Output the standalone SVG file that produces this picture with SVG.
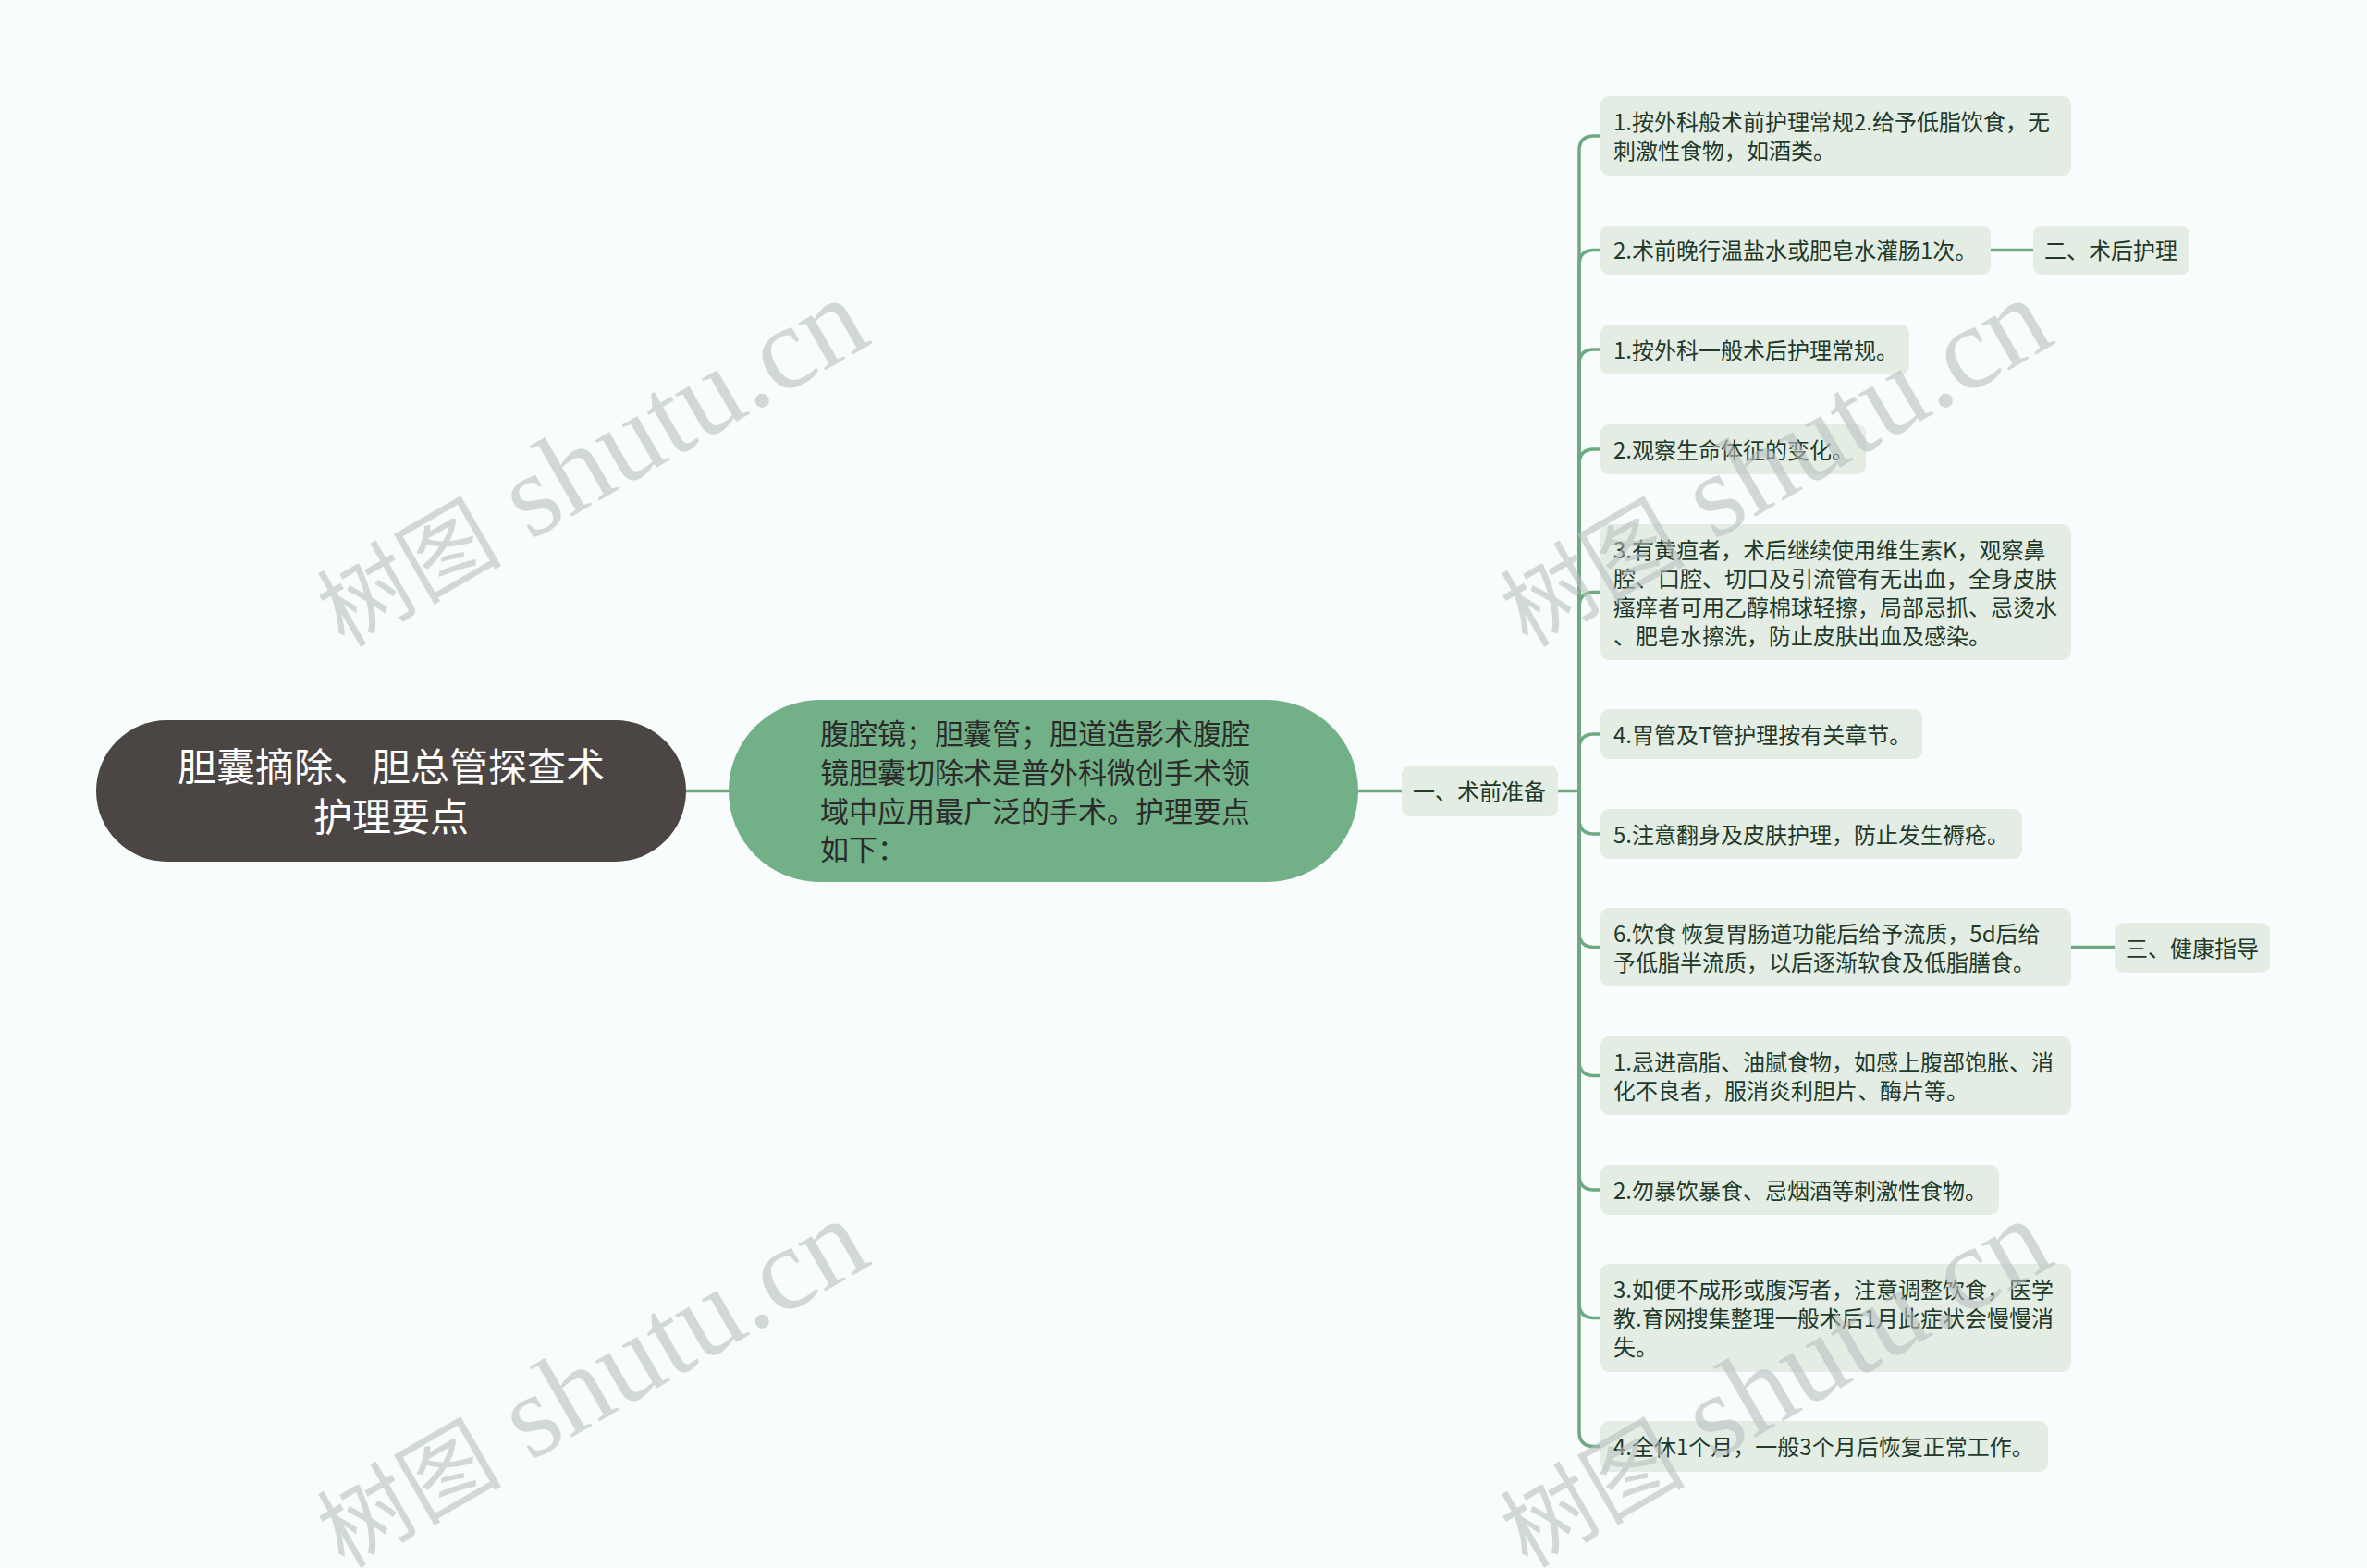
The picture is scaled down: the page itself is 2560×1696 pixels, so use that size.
<svg xmlns="http://www.w3.org/2000/svg" width="2560" height="1696" viewBox="0 0 2560 1696">
<style>
.bg{fill:#f8fcfc}
.wm{fill:#b8bfbf;fill-opacity:0.6}
.wm1{font-family:"Noto Sans CJK SC",sans-serif;font-size:100px}
.wm2{font-family:"Liberation Serif",serif;font-size:128px}
.conn{fill:none;stroke:#6fa982;stroke-width:3.5;stroke-linecap:round}
.root{fill:#4b4544}
.center{fill:#72b087}
.leaf{fill:#e3ede4}
.t{font-family:"Noto Sans CJK SC","Noto Sans",sans-serif;dominant-baseline:central}
.tr{font-size:42px;fill:#ffffff;text-anchor:middle}
.tc{font-size:31px;fill:#2b2b2b}
.tl{font-size:24px;fill:#22392a}
</style>
<rect class="bg" x="0" y="0" width="2560" height="1696"/>
<g id="connectors">
<path class="conn" d="M742,855.5 H788"/>
<path class="conn" d="M1469,855.5 H1516"/>
<path class="conn" d="M1685,855.5 H1708"/>
<path class="conn" d="M1708,855.5 V163 Q1708,147 1724,147 H1731"/>
<path class="conn" d="M1708,855.5 V286.5 Q1708,270.5 1724,270.5 H1731"/>
<path class="conn" d="M1708,855.5 V394 Q1708,378 1724,378 H1731"/>
<path class="conn" d="M1708,855.5 V502 Q1708,486 1724,486 H1731"/>
<path class="conn" d="M1708,855.5 V656.5 Q1708,640.5 1724,640.5 H1731"/>
<path class="conn" d="M1708,855.5 V810 Q1708,794 1724,794 H1731"/>
<path class="conn" d="M1708,855.5 V886 Q1708,902 1724,902 H1731"/>
<path class="conn" d="M1708,855.5 V1008.5 Q1708,1024.5 1724,1024.5 H1731"/>
<path class="conn" d="M1708,855.5 V1147.5 Q1708,1163.5 1724,1163.5 H1731"/>
<path class="conn" d="M1708,855.5 V1271 Q1708,1287 1724,1287 H1731"/>
<path class="conn" d="M1708,855.5 V1409.5 Q1708,1425.5 1724,1425.5 H1731"/>
<path class="conn" d="M1708,855.5 V1548.5 Q1708,1564.5 1724,1564.5 H1731"/>
<path class="conn" d="M2153,270.5 H2199"/>
<path class="conn" d="M2240,1024.5 H2287"/>
</g>
<g id="root">
<rect class="root" x="104" y="779" width="638" height="153" rx="76.5"/>
<text class="t tr" x="423" y="826">胆囊摘除、胆总管探查术</text>
<text class="t tr" x="423" y="880">护理要点</text>
</g>
<g id="center">
<rect class="center" x="788" y="757" width="681" height="197" rx="98.5"/>
<text class="t tc" x="887" y="791">腹腔镜；胆囊管；胆道造影术腹腔</text>
<text class="t tc" x="887" y="833">镜胆囊切除术是普外科微创手术领</text>
<text class="t tc" x="887" y="875">域中应用最广泛的手术。护理要点</text>
<text class="t tc" x="887" y="916">如下：</text>
</g>
<g id="n-pre">
<rect class="leaf" x="1516" y="828" width="169" height="55" rx="9"/>
<text class="t tl" x="1528" y="854">一、术前准备</text>
</g>
<g id="n1">
<rect class="leaf" x="1731" y="104" width="509" height="86" rx="9"/>
<text class="t tl" x="1745" y="130">1.按外科般术前护理常规2.给予低脂饮食，无</text>
<text class="t tl" x="1745" y="161">刺激性食物，如酒类。</text>
</g>
<g id="n2">
<rect class="leaf" x="1731" y="244" width="422" height="53" rx="9"/>
<text class="t tl" x="1745" y="269">2.术前晚行温盐水或肥皂水灌肠1次。</text>
</g>
<g id="n-post">
<rect class="leaf" x="2199" y="244" width="169" height="53" rx="9"/>
<text class="t tl" x="2211" y="269">二、术后护理</text>
</g>
<g id="n3">
<rect class="leaf" x="1731" y="351" width="334" height="54" rx="9"/>
<text class="t tl" x="1745" y="377">1.按外科一般术后护理常规。</text>
</g>
<g id="n4">
<rect class="leaf" x="1731" y="459" width="287" height="54" rx="9"/>
<text class="t tl" x="1745" y="485">2.观察生命体征的变化。</text>
</g>
<g id="n5">
<rect class="leaf" x="1731" y="567" width="509" height="147" rx="9"/>
<text class="t tl" x="1745" y="593">3.有黄疸者，术后继续使用维生素K，观察鼻</text>
<text class="t tl" x="1745" y="624">腔、口腔、切口及引流管有无出血，全身皮肤</text>
<text class="t tl" x="1745" y="655">瘙痒者可用乙醇棉球轻擦，局部忌抓、忌烫水</text>
<text class="t tl" x="1745" y="686">、肥皂水擦洗，防止皮肤出血及感染。</text>
</g>
<g id="n6">
<rect class="leaf" x="1731" y="767" width="348" height="54" rx="9"/>
<text class="t tl" x="1745" y="793">4.胃管及T管护理按有关章节。</text>
</g>
<g id="n7">
<rect class="leaf" x="1731" y="875" width="456" height="54" rx="9"/>
<text class="t tl" x="1745" y="901">5.注意翻身及皮肤护理，防止发生褥疮。</text>
</g>
<g id="n8">
<rect class="leaf" x="1731" y="982" width="509" height="85" rx="9"/>
<text class="t tl" x="1745" y="1008">6.饮食 恢复胃肠道功能后给予流质，5d后给</text>
<text class="t tl" x="1745" y="1039">予低脂半流质，以后逐渐软食及低脂膳食。</text>
</g>
<g id="n-health">
<rect class="leaf" x="2287" y="998" width="168" height="54" rx="9"/>
<text class="t tl" x="2299" y="1024">三、健康指导</text>
</g>
<g id="n9">
<rect class="leaf" x="1731" y="1121" width="509" height="85" rx="9"/>
<text class="t tl" x="1745" y="1147">1.忌进高脂、油腻食物，如感上腹部饱胀、消</text>
<text class="t tl" x="1745" y="1178">化不良者，服消炎利胆片、酶片等。</text>
</g>
<g id="n10">
<rect class="leaf" x="1731" y="1260" width="431" height="54" rx="9"/>
<text class="t tl" x="1745" y="1286">2.勿暴饮暴食、忌烟酒等刺激性食物。</text>
</g>
<g id="n11">
<rect class="leaf" x="1731" y="1367" width="509" height="117" rx="9"/>
<text class="t tl" x="1745" y="1393">3.如便不成形或腹泻者，注意调整饮食，医学</text>
<text class="t tl" x="1745" y="1424">教.育网搜集整理一般术后1月此症状会慢慢消</text>
<text class="t tl" x="1745" y="1455">失。</text>
</g>
<g id="n12">
<rect class="leaf" x="1731" y="1537" width="484" height="55" rx="9"/>
<text class="t tl" x="1745" y="1563">4.全休1个月，一般3个月后恢复正常工作。</text>
</g>
<g id="watermarks">
<text class="wm" transform="translate(372,701) rotate(-30)"><tspan class="wm1">树图</tspan><tspan class="wm2"> shutu.cn</tspan></text>
<text class="wm" transform="translate(1652,701) rotate(-30)"><tspan class="wm1">树图</tspan><tspan class="wm2"> shutu.cn</tspan></text>
<text class="wm" transform="translate(372,1697) rotate(-30)"><tspan class="wm1">树图</tspan><tspan class="wm2"> shutu.cn</tspan></text>
<text class="wm" transform="translate(1652,1697) rotate(-30)"><tspan class="wm1">树图</tspan><tspan class="wm2"> shutu.cn</tspan></text>
</g>
</svg>
